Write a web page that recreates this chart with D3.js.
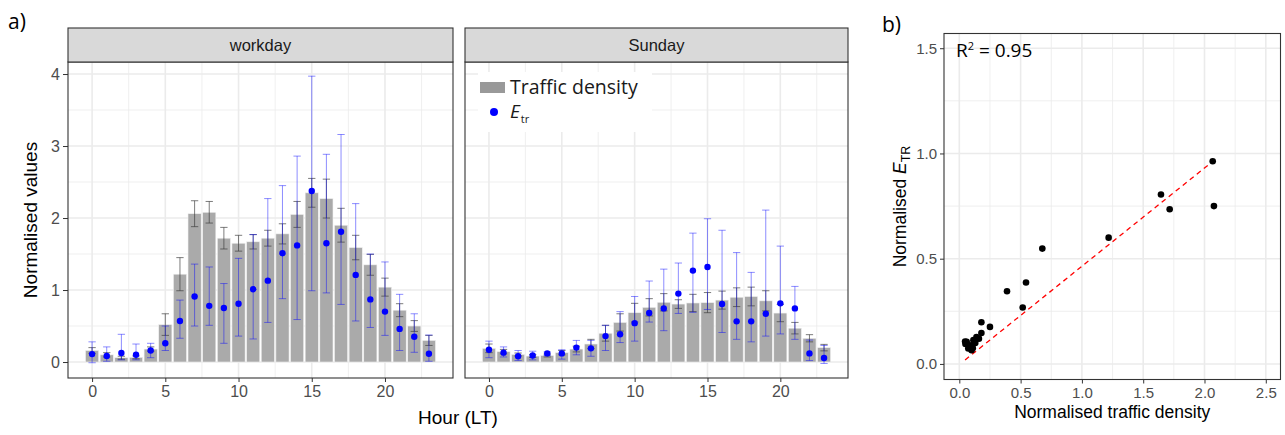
<!DOCTYPE html>
<html>
<head>
<meta charset="utf-8">
<script src="https://d3js.org/d3.v7.min.js"></script>
<style>
  body { margin: 0; background: #fff; }
  text { font-family: "Liberation Sans", Arial, sans-serif; }
  .lab { font-family: "Open Sans", sans-serif; }
</style>
</head>
<body>
<div id="vis"></div>
<script>
const FRAME_WIDTH = 1285;
const FRAME_HEIGHT = 435;

// hours shown on both facets
const HOURS = [0,1,2,3,4,5,6,7,8,9,10,11,12,13,14,15,16,17,18,19,20,21,22,23];

// workday: traffic density (bars) and its spread
const WORK_TRAFFIC = [0.16,0.10,0.06,0.065,0.18,0.52,1.22,2.06,2.08,1.72,1.65,1.67,1.72,1.78,2.05,2.35,2.27,1.90,1.59,1.35,1.04,0.72,0.50,0.30];
const WORK_TRAFFIC_SD = [0.04,0.03,0.02,0.02,0.03,0.15,0.23,0.18,0.15,0.15,0.11,0.10,0.11,0.14,0.18,0.20,0.27,0.235,0.17,0.145,0.125,0.09,0.075,0.07];

// workday: E_tr points with lower / upper whiskers
const WORK_E = [0.11,0.083,0.125,0.10,0.16,0.26,0.57,0.91,0.78,0.75,0.81,1.01,1.13,1.51,1.62,2.375,1.65,1.81,1.21,0.87,0.70,0.46,0.35,0.115];
const WORK_E_LO = [-0.01,0.01,0.03,0.03,0.06,0.16,0.33,0.50,0.51,0.26,0.36,0.32,0.55,0.88,0.59,0.99,0.96,0.80,0.57,0.48,0.37,0.16,0.135,0.01];
const WORK_E_HI = [0.28,0.21,0.385,0.25,0.26,0.50,0.86,1.36,1.32,1.09,1.44,1.77,2.27,2.45,2.86,3.97,2.885,3.16,2.20,1.50,1.39,0.94,0.67,0.375];

// sunday
const SUN_TRAFFIC = [0.19,0.145,0.105,0.083,0.09,0.13,0.18,0.25,0.40,0.55,0.685,0.76,0.83,0.805,0.82,0.825,0.86,0.90,0.91,0.85,0.68,0.47,0.33,0.20];
const SUN_TRAFFIC_SD = [0.06,0.03,0.02,0.02,0.02,0.03,0.04,0.065,0.11,0.12,0.13,0.12,0.12,0.06,0.12,0.14,0.125,0.13,0.13,0.14,0.12,0.08,0.05,0.045];
const SUN_E = [0.17,0.13,0.08,0.09,0.12,0.12,0.20,0.19,0.36,0.385,0.54,0.68,0.745,0.95,1.27,1.32,0.805,0.565,0.565,0.67,0.815,0.745,0.12,0.055];
const SUN_E_LO = [0.06,0.07,0.02,0.03,0.09,0.04,0.10,0.08,0.16,0.27,0.29,0.555,0.435,0.675,0.69,0.73,0.41,0.315,0.28,0.36,0.39,0.315,0.02,-0.02];
const SUN_E_HI = [0.29,0.21,0.16,0.15,0.14,0.17,0.30,0.30,0.51,0.70,0.91,1.125,1.29,1.375,1.79,1.99,1.83,1.52,1.245,2.11,1.61,1.05,0.305,0.23];

// panel b: normalised traffic density vs normalised E_TR
const SCATTER_X = [2.067,1.645,1.716,2.077,1.218,0.677,0.544,0.389,0.517,0.25,0.18,0.18,0.14,0.115,0.13,0.06,0.047,0.087,0.073,0.10,0.087,0.05,0.16,0.11];
const SCATTER_Y = [0.963,0.805,0.735,0.75,0.60,0.548,0.387,0.345,0.268,0.176,0.198,0.147,0.128,0.113,0.10,0.105,0.106,0.089,0.073,0.065,0.081,0.095,0.12,0.075];
const FIT_INTERCEPT = -0.003;
const FIT_SLOPE = 0.467;

// ticks
const HOUR_TICKS = [0,5,10,15,20];
const HOUR_MINOR = [2.5,7.5,12.5,17.5,22.5];
const VALUE_TICKS = [0,1,2,3,4];
const VALUE_MINOR = [0.5,1.5,2.5,3.5];
const B_TICKS_X = [0,0.5,1,1.5,2,2.5];
const B_MINOR_X = [0.25,0.75,1.25,1.75,2.25];
const B_TICKS_Y = [0,0.5,1,1.5];
const B_MINOR_Y = [0.25,0.75,1.25];

const FACETS = [
  {name: "workday", left: 68, right: 453, traffic: WORK_TRAFFIC, sd: WORK_TRAFFIC_SD, e: WORK_E, lo: WORK_E_LO, hi: WORK_E_HI},
  {name: "Sunday", left: 465, right: 848, traffic: SUN_TRAFFIC, sd: SUN_TRAFFIC_SD, e: SUN_E, lo: SUN_E_LO, hi: SUN_E_HI}
];
const STRIP = {top: 28, bottom: 62};
const PANEL_BOTTOM = 378;

const GRID = "#ebebeb";
const BORDER = "#333333";
const TICK_TEXT = "#4d4d4d";

const SVG = d3.select("#vis")
  .append("svg")
    .attr("width", FRAME_WIDTH)
    .attr("height", FRAME_HEIGHT);

// shared y scale for both facets
const Y_SCALE = d3.scaleLinear()
  .domain([-0.222, 4.167])
  .range([PANEL_BOTTOM, STRIP.bottom]);

FACETS.forEach((f, fi) => {
  let x = d3.scaleLinear()
    .domain([-1.645, 24.645])
    .range([f.left, f.right]);
  let g = SVG.append("g");

  // gridlines (minor then major)
  g.selectAll(".vminor").data(HOUR_MINOR).enter().append("line")
    .attr("x1", d => x(d)).attr("x2", d => x(d))
    .attr("y1", STRIP.bottom).attr("y2", PANEL_BOTTOM)
    .attr("stroke", GRID).attr("stroke-width", 0.8);
  g.selectAll(".hminor").data(VALUE_MINOR).enter().append("line")
    .attr("x1", f.left).attr("x2", f.right)
    .attr("y1", d => Y_SCALE(d)).attr("y2", d => Y_SCALE(d))
    .attr("stroke", GRID).attr("stroke-width", 0.8);
  g.selectAll(".vmajor").data(HOUR_TICKS).enter().append("line")
    .attr("x1", d => x(d)).attr("x2", d => x(d))
    .attr("y1", STRIP.bottom).attr("y2", PANEL_BOTTOM)
    .attr("stroke", GRID).attr("stroke-width", 1.6);
  g.selectAll(".hmajor").data(VALUE_TICKS).enter().append("line")
    .attr("x1", f.left).attr("x2", f.right)
    .attr("y1", d => Y_SCALE(d)).attr("y2", d => Y_SCALE(d))
    .attr("stroke", GRID).attr("stroke-width", 1.6);

  // legend box sits on the Sunday panel, hiding the grid under it
  if (fi == 1) {
    g.append("rect")
      .attr("x", f.left + 13).attr("y", 72)
      .attr("width", 174).attr("height", 60)
      .attr("fill", "#fff");
  }

  // bars
  g.selectAll(".bar").data(HOURS).enter().append("rect")
    .attr("x", d => x(d - 0.45))
    .attr("width", x(0.45) - x(-0.45))
    .attr("y", d => Y_SCALE(f.traffic[d]))
    .attr("height", d => Y_SCALE(0) - Y_SCALE(f.traffic[d]))
    .attr("fill", "#aaaaaa")
    .attr("stroke", "#f2f2f2")
    .attr("stroke-width", 0.6);

  // traffic error bars
  let cap = x(0.25) - x(0);
  let te = g.selectAll(".terr").data(HOURS).enter().append("g")
    .attr("stroke", "#3c3c3c").attr("stroke-opacity", 0.75).attr("stroke-width", 0.9);
  te.append("line")
    .attr("x1", d => x(d)).attr("x2", d => x(d))
    .attr("y1", d => Y_SCALE(f.traffic[d] - f.sd[d]))
    .attr("y2", d => Y_SCALE(f.traffic[d] + f.sd[d]));
  te.append("line")
    .attr("x1", d => x(d) - cap).attr("x2", d => x(d) + cap)
    .attr("y1", d => Y_SCALE(f.traffic[d] - f.sd[d]))
    .attr("y2", d => Y_SCALE(f.traffic[d] - f.sd[d]));
  te.append("line")
    .attr("x1", d => x(d) - cap).attr("x2", d => x(d) + cap)
    .attr("y1", d => Y_SCALE(f.traffic[d] + f.sd[d]))
    .attr("y2", d => Y_SCALE(f.traffic[d] + f.sd[d]));

  // E_tr error bars
  let ee = g.selectAll(".eerr").data(HOURS).enter().append("g")
    .attr("stroke", "#0000ff").attr("stroke-opacity", 0.45).attr("stroke-width", 1);
  ee.append("line")
    .attr("x1", d => x(d)).attr("x2", d => x(d))
    .attr("y1", d => Y_SCALE(f.lo[d]))
    .attr("y2", d => Y_SCALE(f.hi[d]));
  ee.append("line")
    .attr("x1", d => x(d) - cap).attr("x2", d => x(d) + cap)
    .attr("y1", d => Y_SCALE(f.lo[d])).attr("y2", d => Y_SCALE(f.lo[d]));
  ee.append("line")
    .attr("x1", d => x(d) - cap).attr("x2", d => x(d) + cap)
    .attr("y1", d => Y_SCALE(f.hi[d])).attr("y2", d => Y_SCALE(f.hi[d]));

  // E_tr points
  g.selectAll(".pt").data(HOURS).enter().append("circle")
    .attr("cx", d => x(d))
    .attr("cy", d => Y_SCALE(f.e[d]))
    .attr("r", 3.2)
    .attr("fill", "#0000ff");

  // panel border
  g.append("rect")
    .attr("x", f.left).attr("y", STRIP.bottom)
    .attr("width", f.right - f.left).attr("height", PANEL_BOTTOM - STRIP.bottom)
    .attr("fill", "none").attr("stroke", BORDER).attr("stroke-width", 1.1);

  // strip
  g.append("rect")
    .attr("x", f.left).attr("y", STRIP.top)
    .attr("width", f.right - f.left).attr("height", STRIP.bottom - STRIP.top)
    .attr("fill", "#d9d9d9").attr("stroke", BORDER).attr("stroke-width", 1.1);
  g.append("text")
    .attr("x", (f.left + f.right) / 2).attr("y", (STRIP.top + STRIP.bottom) / 2 + 6)
    .attr("text-anchor", "middle")
    .attr("font-size", "16.5px").attr("fill", "#1a1a1a")
    .text(f.name);

  // x axis
  let xa = g.append("g")
    .attr("transform", "translate(0," + PANEL_BOTTOM + ")")
    .call(d3.axisBottom(x).tickValues(HOUR_TICKS).tickSize(4).tickPadding(4).tickFormat(d3.format("d")));
  xa.select(".domain").remove();
  xa.selectAll("line").attr("stroke", BORDER);
  xa.selectAll("text").attr("font-size", "16px").attr("fill", TICK_TEXT).attr("font-family", "Liberation Sans, Arial, sans-serif");

  if (fi == 0) {
    let ya = g.append("g")
      .attr("transform", "translate(" + f.left + ",0)")
      .call(d3.axisLeft(Y_SCALE).tickValues(VALUE_TICKS).tickSize(5).tickPadding(3).tickFormat(d3.format("d")));
    ya.select(".domain").remove();
    ya.selectAll("line").attr("stroke", BORDER);
    ya.selectAll("text").attr("font-size", "16px").attr("fill", TICK_TEXT).attr("font-family", "Liberation Sans, Arial, sans-serif");
  }

  if (fi == 1) {
    // legend contents
    let lx = f.left + 15;
    g.append("rect")
      .attr("x", lx).attr("y", 82).attr("width", 25).attr("height", 11)
      .attr("fill", "#999999");
    g.append("text").attr("class", "lab")
      .attr("x", lx + 30).attr("y", 94)
      .attr("font-size", "19.5px").attr("fill", "#1a1a1a")
      .text("Traffic density");
    g.append("circle")
      .attr("cx", lx + 14).attr("cy", 112).attr("r", 4).attr("fill", "#0000ff");
    let et = g.append("text").attr("class", "lab")
      .attr("x", lx + 30).attr("y", 118)
      .attr("font-size", "19px").attr("fill", "#1a1a1a");
    et.append("tspan").attr("font-style", "italic").text("E");
    et.append("tspan").attr("font-size", "11px").attr("dy", 5).attr("dx", 1).text("tr");
  }
});

// shared axis titles for panel a
SVG.append("text")
  .attr("transform", "translate(37," + (STRIP.bottom + PANEL_BOTTOM) / 2 + ") rotate(-90)")
  .attr("text-anchor", "middle")
  .attr("font-size", "19px").attr("fill", "#000")
  .text("Normalised values");
SVG.append("text")
  .attr("x", (68 + 848) / 2).attr("y", 424)
  .attr("text-anchor", "middle")
  .attr("font-size", "19px").attr("fill", "#000")
  .text("Hour (LT)");
SVG.append("text").attr("class", "lab")
  .attr("x", 8).attr("y", 29)
  .attr("font-size", "21px").attr("fill", "#000")
  .text("a)");

//
// PANEL B - SCATTER
//
const B = {left: 944, right: 1280.5, top: 33.5, bottom: 379.5};

const BX = d3.scaleLinear()
  .domain([-0.125, 2.62])
  .range([B.left, B.right]);
const BY = d3.scaleLinear()
  .domain([-0.074, 1.57])
  .range([B.bottom, B.top]);

const BG = SVG.append("g");

BG.selectAll(".bvmin").data(B_MINOR_X).enter().append("line")
  .attr("x1", d => BX(d)).attr("x2", d => BX(d))
  .attr("y1", B.top).attr("y2", B.bottom)
  .attr("stroke", GRID).attr("stroke-width", 0.8);
BG.selectAll(".bhmin").data(B_MINOR_Y).enter().append("line")
  .attr("x1", B.left).attr("x2", B.right)
  .attr("y1", d => BY(d)).attr("y2", d => BY(d))
  .attr("stroke", GRID).attr("stroke-width", 0.8);
BG.selectAll(".bvmaj").data(B_TICKS_X).enter().append("line")
  .attr("x1", d => BX(d)).attr("x2", d => BX(d))
  .attr("y1", B.top).attr("y2", B.bottom)
  .attr("stroke", GRID).attr("stroke-width", 1.6);
BG.selectAll(".bhmaj").data(B_TICKS_Y).enter().append("line")
  .attr("x1", B.left).attr("x2", B.right)
  .attr("y1", d => BY(d)).attr("y2", d => BY(d))
  .attr("stroke", GRID).attr("stroke-width", 1.6);

// fit line over the range of the data
let xMin = d3.min(SCATTER_X), xMax = d3.max(SCATTER_X);
BG.append("line")
  .attr("x1", BX(xMin)).attr("y1", BY(FIT_INTERCEPT + FIT_SLOPE * xMin))
  .attr("x2", BX(xMax)).attr("y2", BY(FIT_INTERCEPT + FIT_SLOPE * xMax))
  .attr("stroke", "#ff0000").attr("stroke-width", 1.3)
  .attr("stroke-dasharray", "5,4");

BG.selectAll(".bpt").data(SCATTER_X).enter().append("circle")
  .attr("cx", d => BX(d))
  .attr("cy", (d, i) => BY(SCATTER_Y[i]))
  .attr("r", 3.3)
  .attr("fill", "#000");

BG.append("rect")
  .attr("x", B.left).attr("y", B.top)
  .attr("width", B.right - B.left).attr("height", B.bottom - B.top)
  .attr("fill", "none").attr("stroke", BORDER).attr("stroke-width", 1.1);

let bxa = BG.append("g")
  .attr("transform", "translate(0," + B.bottom + ")")
  .call(d3.axisBottom(BX).tickValues(B_TICKS_X).tickSize(4).tickPadding(4).tickFormat(d3.format(".1f")));
bxa.select(".domain").remove();
bxa.selectAll("line").attr("stroke", BORDER);
bxa.selectAll("text").attr("font-size", "15px").attr("fill", TICK_TEXT).attr("font-family", "Liberation Sans, Arial, sans-serif");

let bya = BG.append("g")
  .attr("transform", "translate(" + B.left + ",0)")
  .call(d3.axisLeft(BY).tickValues(B_TICKS_Y).tickSize(4).tickPadding(3).tickFormat(d3.format(".1f")));
bya.select(".domain").remove();
bya.selectAll("line").attr("stroke", BORDER);
bya.selectAll("text").attr("font-size", "15px").attr("fill", TICK_TEXT).attr("font-family", "Liberation Sans, Arial, sans-serif");

SVG.append("text")
  .attr("x", (B.left + B.right) / 2).attr("y", 418)
  .attr("text-anchor", "middle")
  .attr("font-size", "17.5px").attr("fill", "#000")
  .text("Normalised traffic density");

let yt = SVG.append("text")
  .attr("transform", "translate(906," + (B.top + B.bottom) / 2 + ") rotate(-90)")
  .attr("text-anchor", "middle")
  .attr("font-size", "17.5px").attr("fill", "#000");
yt.append("tspan").text("Normalised ");
yt.append("tspan").attr("font-style", "italic").text("E");
yt.append("tspan").attr("font-size", "12.5px").attr("dy", 4).text("TR");

let r2 = SVG.append("text").attr("class", "lab")
  .attr("x", 956).attr("y", 57)
  .attr("font-size", "19px").attr("fill", "#000");
r2.append("tspan").text("R");
r2.append("tspan").attr("font-size", "11px").attr("dy", -7).text("2");
r2.append("tspan").attr("dy", 7).text(" = 0.95");

SVG.append("text").attr("class", "lab")
  .attr("x", 882).attr("y", 32)
  .attr("font-size", "21px").attr("fill", "#000")
  .text("b)");
</script>
</body>
</html>
